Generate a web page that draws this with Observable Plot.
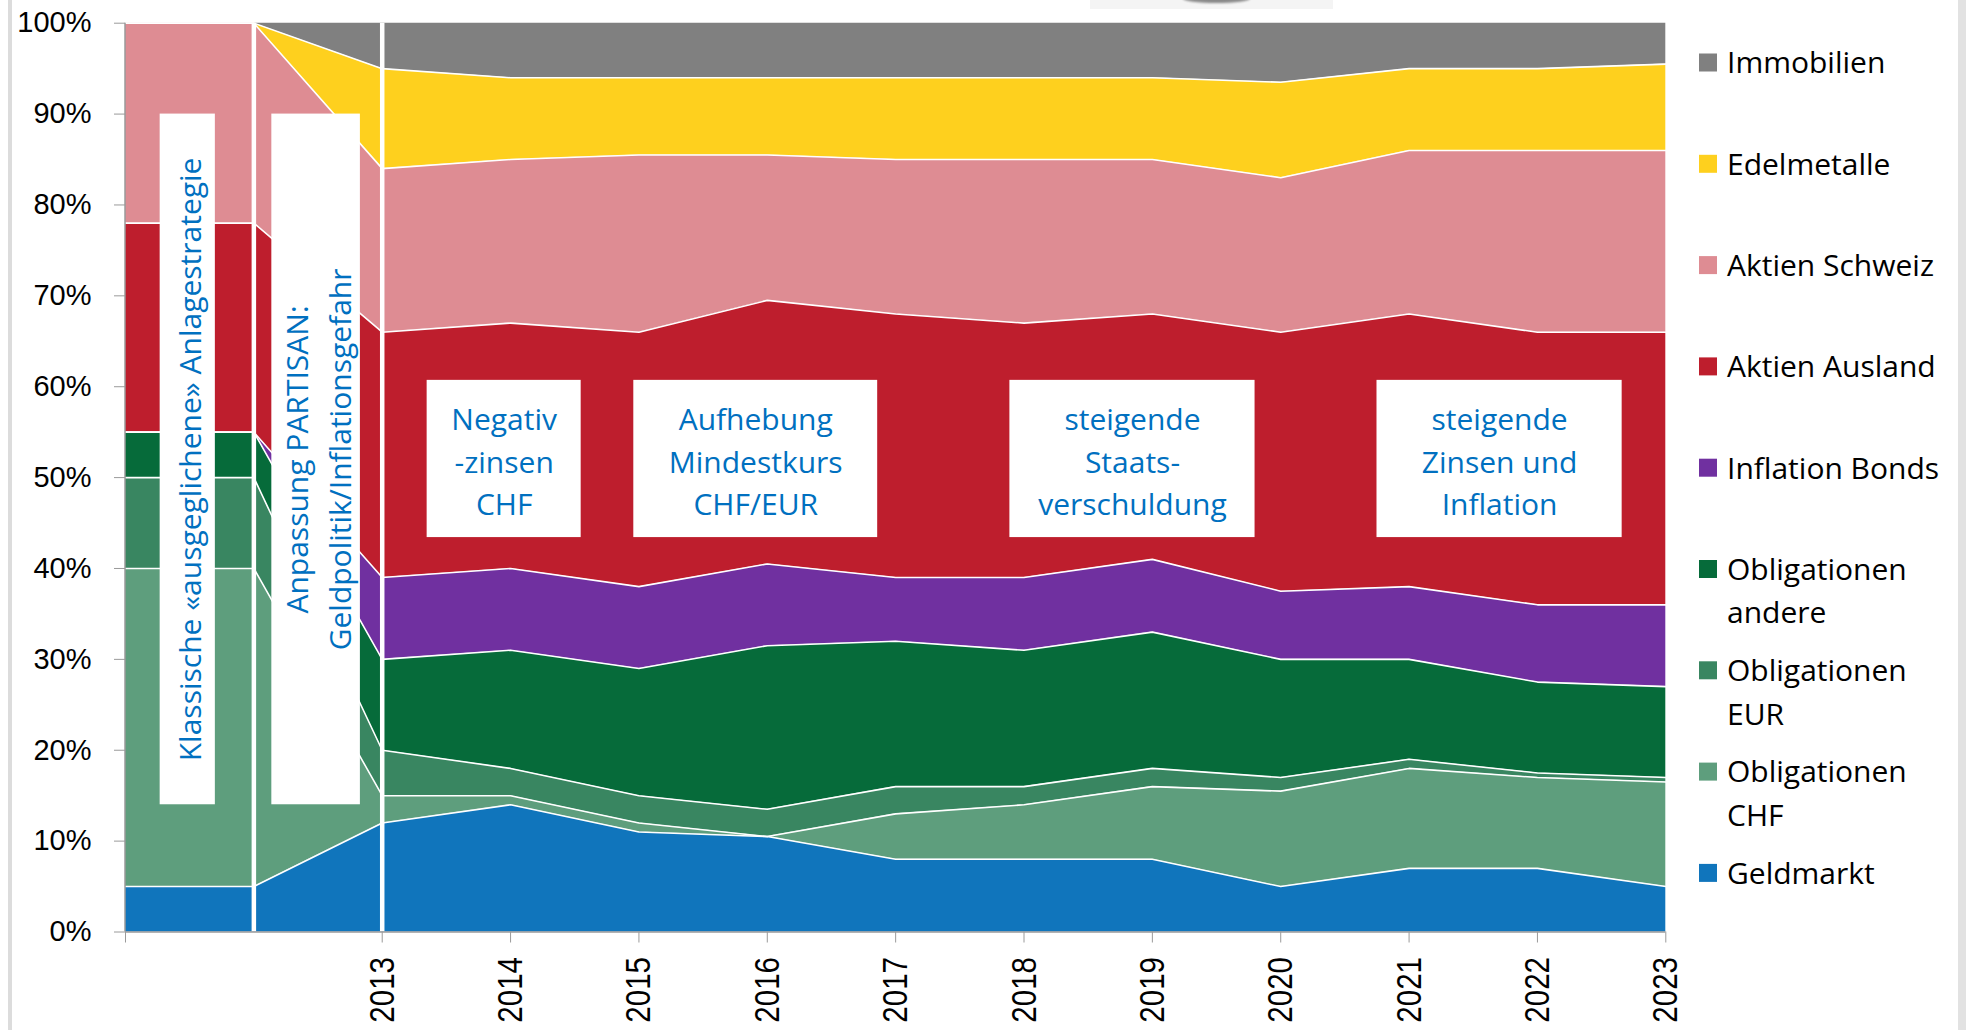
<!DOCTYPE html>
<html><head><meta charset="utf-8">
<script src="https://cdn.jsdelivr.net/npm/d3@7"></script>
<script src="https://cdn.jsdelivr.net/npm/@observablehq/plot@0.6"></script>
<style>
body{margin:0;background:#fff;}
#wrap{position:relative;width:1966px;height:1030px;overflow:hidden;background:#fff;}
#wrap svg{position:absolute;left:0;top:0;}
.edgeL{position:absolute;left:8px;top:0;width:4px;height:1030px;background:#dcdcdc;}
.edgeR{position:absolute;left:1958px;top:0;width:8px;height:1030px;background:#e2e2e2;}
.topart{position:absolute;left:1090px;top:0;width:243px;height:9px;background:#f4f4f4;}
.topart div{position:absolute;left:93px;top:-6px;width:67px;height:9px;border-radius:50%;background:#8a8a8a;filter:blur(1px);}
</style></head><body><div id="wrap"><div class="edgeL"></div><div class="edgeR"></div><div class="topart"><div></div></div></div>
<script>
// categories (first two unlabeled: classic strategy, PARTISAN adjustment)
const categories = ["", "", "2013", "2014", "2015", "2016", "2017", "2018", "2019", "2020", "2021", "2022", "2023"];
const series = ["Geldmarkt", "Obligationen CHF", "Obligationen EUR", "Obligationen andere", "Inflation Bonds", "Aktien Ausland", "Aktien Schweiz", "Edelmetalle", "Immobilien"];
const colors = ["#1075bc", "#5e9e7d", "#398661", "#066b3a", "#7030a0", "#be1e2d", "#de8c93", "#fed01e", "#808080"];

const geldmarkt          = [5, 5, 12, 14, 11, 10.5, 8, 8, 8, 5, 7, 7, 5];
const obligationenCHF    = [35, 35, 3, 1, 1, 0, 5, 6, 8, 10.5, 11, 10, 11.5];
const obligationenEUR    = [10, 10, 5, 3, 3, 3, 3, 2, 2, 1.5, 1, 0.5, 0.5];
const obligationenAndere = [5, 5, 10, 13, 14, 18, 16, 15, 15, 13, 11, 10, 10];
const inflationBonds     = [0, 0, 9, 9, 9, 9, 7, 8, 8, 7.5, 8, 8.5, 9];
const aktienAusland      = [23, 23, 27, 27, 28, 29, 29, 28, 27, 28.5, 30, 30, 30];
const aktienSchweiz      = [22, 22, 18, 18, 19.5, 16, 17, 18, 17, 17, 18, 20, 20];
const edelmetalle        = [0, 0, 11, 9, 8.5, 8.5, 9, 9, 9, 10.5, 9, 9, 9.5];
const immobilien         = [0, 0, 5, 6, 6, 6, 6, 6, 6, 6.5, 5, 5, 4.5];

const yTicks = [0, 10, 20, 30, 40, 50, 60, 70, 80, 90, 100];
const xTicks = [0, 2, 3, 4, 5, 6, 7, 8, 9, 10, 11, 12];
const separators = [1, 2];

const legendLabels = ["Immobilien", "Edelmetalle", "Aktien Schweiz", "Aktien Ausland", "Inflation Bonds", "Obligationen\nandere", "Obligationen\nEUR", "Obligationen\nCHF", "Geldmarkt"];

const annotations = [
  {text: "Klassische «ausgeglichene» Anlagestrategie", x1: 0.27, x2: 0.70, y1: 14, y2: 90, rotate: -90},
  {text: "Anpassung PARTISAN:\nGeldpolitik/Inflationsgefahr", x1: 1.14, x2: 1.83, y1: 14, y2: 90, rotate: -90},
  {text: "Negativ\n-zinsen\nCHF", x1: 2.35, x2: 3.55, y1: 43.4, y2: 60.7, rotate: 0},
  {text: "Aufhebung\nMindestkurs\nCHF/EUR", x1: 3.96, x2: 5.86, y1: 43.4, y2: 60.7, rotate: 0},
  {text: "steigende\nStaats-\nverschuldung", x1: 6.89, x2: 8.80, y1: 43.4, y2: 60.7, rotate: 0},
  {text: "steigende\nZinsen und\nInflation", x1: 9.75, x2: 11.66, y1: 43.4, y2: 60.7, rotate: 0}
];

const valuesBySeries = [geldmarkt, obligationenCHF, obligationenEUR, obligationenAndere, inflationBonds, aktienAusland, aktienSchweiz, edelmetalle, immobilien];
const rows = categories.flatMap((c, i) => series.map((s, k) => ({i, series: s, value: valuesBySeries[k][i]})));

const W = 1966, H = 1030;
const mL = 125, mR = W - 1665.3, mT = 22.7, mB = H - 931.5;
const axisGray = "#9a9a9a";

const plot = Plot.plot({
  width: W, height: H,
  marginLeft: mL, marginRight: mR, marginTop: mT, marginBottom: mB,
  x: {domain: [0, 12], axis: null},
  y: {domain: [0, 100], axis: null},
  color: {domain: series, range: colors},
  style: {background: "transparent", overflow: "visible"},
  marks: [
    Plot.areaY(rows, {x: "i", y: "value", z: "series", fill: "series", order: series}),
    Plot.line(rows, Plot.stackY2({x: "i", y: "value", z: "series", order: series, filter: d => d.series !== "Immobilien", stroke: "white", strokeWidth: 1.6})),
    Plot.ruleX(separators, {x: d => d, y1: 0, y2: 100, stroke: "white", strokeWidth: 4.5}),
    Plot.rect(annotations, {x1: "x1", x2: "x2", y1: "y1", y2: "y2", fill: "white"}),
    Plot.text(annotations, {x: d => (d.x1 + d.x2) / 2, y: d => (d.y1 + d.y2) / 2, text: "text", rotate: "rotate",
      lineHeight: 1.42, fontSize: 30, fontFamily: "'Open Sans', 'Noto Sans', sans-serif", fill: "#0070c0", textAnchor: "middle", lineAnchor: "middle"}),
    Plot.axisY({ticks: yTicks, tickFormat: d => d + "%", tickSize: 11, tickPadding: 23, fontSize: 29,
      fontFamily: "'Liberation Sans', Arial, sans-serif", stroke: axisGray, fill: "#000"}),
    Plot.axisX({ticks: xTicks, tickFormat: i => categories[i], tickSize: 11, tickPadding: 14, tickRotate: -90, fontSize: 36,
      fontFamily: "'Liberation Sans', Arial, sans-serif", stroke: axisGray, fill: "#000", ariaLabel: "x-labels"}),
    Plot.ruleX([0], {stroke: axisGray, strokeWidth: 1.5, dx: -0.5}),
    Plot.ruleY([0], {stroke: axisGray, strokeWidth: 1.5})
  ]
});

document.getElementById("wrap").appendChild(plot);

const svg = d3.select(plot);
// condense the rotated year labels along their reading direction (narrow face as in the reference)
svg.selectAll("text").each(function () {
  const tr = this.getAttribute("transform") || "";
  const g = this.closest("g");
  if (tr.includes("rotate(-90)") && /^20\d\d$/.test(this.textContent.trim())) {
    this.setAttribute("transform", tr + " scale(0.82,1)");
  }
});

// legend (drawn into the same SVG, to the right of the frame)
const lg = svg.append("g").attr("font-family", "'Open Sans', 'Noto Sans', sans-serif").attr("font-size", 30)
  .attr("fill", "#000").attr("text-anchor", "start");
const legendColors = colors.slice().reverse();
legendLabels.forEach((lab, k) => {
  const cy = 62.5 + k * 101.3;
  lg.append("rect").attr("x", 1699).attr("y", cy - 9).attr("width", 18).attr("height", 18).attr("fill", legendColors[k]);
  const t = lg.append("text").attr("x", 1727).attr("y", cy + 10.8).attr("text-anchor", "start");
  lab.split("\n").forEach((line, j) => {
    t.append("tspan").attr("x", 1727).attr("dy", j === 0 ? 0 : 43.4).text(line);
  });
});
</script>
</body></html>
